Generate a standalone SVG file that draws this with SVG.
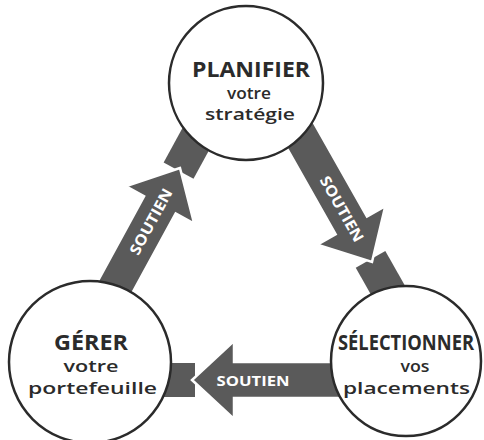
<svg xmlns="http://www.w3.org/2000/svg" width="484" height="440" viewBox="0 0 484 440">
<style>
.bar{fill:#5a5a5a}
.head{fill:#5a5a5a;stroke:#ffffff;stroke-width:2.5;stroke-linejoin:miter}
.lbl{font-family:"Open Sans","Liberation Sans",sans-serif;font-weight:bold;font-size:15px;fill:#ffffff;text-anchor:middle}
.node circle{fill:#ffffff;stroke:#2b2b2b;stroke-width:2.5}
.t{font-family:"Open Sans","Liberation Sans",sans-serif;fill:#2b2b2b;text-anchor:middle}
.b{font-weight:bold;font-size:21px}
.r{font-weight:600;font-size:17px}
.s{font-weight:600;font-size:15.5px}
</style>
<defs>
<g id="arrow">
<rect class="bar" x="-3" y="-17" width="63" height="34"/>
<polygon class="head" points="0,0 -42,-39 -42,-18 -200,-18 -200,18 -42,18 -42,39"/>
</g>
</defs>
<rect width="484" height="440" fill="#ffffff"/>
<g id="connectors">
<g id="arrow-gerer-planifier" transform="translate(180,168) rotate(-61.4)">
<use href="#arrow"/>
<text class="lbl" x="-61" y="5.5" textLength="73" lengthAdjust="spacingAndGlyphs">SOUTIEN</text>
</g>
<g id="arrow-planifier-selectionner" transform="translate(372,262) rotate(60.5)">
<use href="#arrow"/>
<text class="lbl" x="-61" y="5.5" textLength="73" lengthAdjust="spacingAndGlyphs">SOUTIEN</text>
</g>
<g id="arrow-selectionner-gerer">
<use href="#arrow" transform="translate(192,380) rotate(180)"/>
<text class="lbl" x="253" y="385.5" textLength="73" lengthAdjust="spacingAndGlyphs">SOUTIEN</text>
</g>
</g>
<g id="planifier" class="node">
<circle cx="246" cy="83" r="77"/>
<text class="t b" x="251" y="77" textLength="118" lengthAdjust="spacingAndGlyphs">PLANIFIER</text>
<text class="t s" x="249" y="99" textLength="44" lengthAdjust="spacingAndGlyphs">votre</text>
<text class="t s" x="250" y="120" textLength="90" lengthAdjust="spacingAndGlyphs">stratégie</text>
</g>
<g id="gerer" class="node">
<circle cx="90" cy="362" r="81"/>
<text class="t b" x="91" y="350" textLength="74" lengthAdjust="spacingAndGlyphs">GÉRER</text>
<text class="t r" x="91" y="372" textLength="55" lengthAdjust="spacingAndGlyphs">votre</text>
<text class="t r" x="92.5" y="394" textLength="129" lengthAdjust="spacingAndGlyphs">portefeuille</text>
</g>
<g id="selectionner" class="node">
<circle cx="406" cy="361" r="75"/>
<text class="t b" x="406" y="350" textLength="136" lengthAdjust="spacingAndGlyphs">SÉLECTIONNER</text>
<text class="t r" x="415" y="372" textLength="29" lengthAdjust="spacingAndGlyphs">vos</text>
<text class="t r" x="406.5" y="394" textLength="127" lengthAdjust="spacingAndGlyphs">placements</text>
</g>
</svg>
